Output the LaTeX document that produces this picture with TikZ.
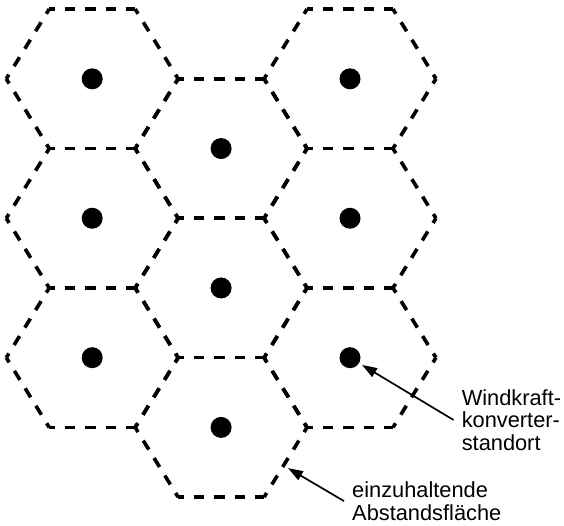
\documentclass[tikz,border=0pt]{standalone}
\usepackage{fontspec}
\setmainfont{Liberation Sans}
\usetikzlibrary{arrows.meta}

\tikzset{
  hexedge/.style={line width=3.6pt, dash pattern=on 10.5pt off 10pt, dash phase=5pt},
  site/.style={circle, fill, inner sep=0pt, minimum size=21pt, outer sep=3.5pt},
  callout/.style={anchor=west, inner sep=8pt, align=left, font=\fontsize{21.8}{22.5}\selectfont}
}

\begin{document}
\begin{tikzpicture}[>={Triangle[length=15pt,width=10pt]}]
		\useasboundingbox (0,0) rectangle (19.82,18.45);
		%hexagons, every edge drawn downwards or left to right
		\foreach \cx/\cy [count=\i] in {3.24/15.68, 3.24/10.78, 3.24/5.88, 7.77/13.23, 7.77/8.33, 7.77/3.43, 12.30/15.68, 12.30/10.78, 12.30/5.88}{
			\draw[hexedge] (\cx-1.51,\cy+2.45) -- (\cx+1.51,\cy+2.45);
			\draw[hexedge] (\cx-1.51,\cy-2.45) -- (\cx+1.51,\cy-2.45);
			\draw[hexedge] (\cx-1.51,\cy+2.45) -- (\cx-3.02,\cy);
			\draw[hexedge] (\cx-3.02,\cy) -- (\cx-1.51,\cy-2.45);
			\draw[hexedge] (\cx+1.51,\cy+2.45) -- (\cx+3.02,\cy);
			\draw[hexedge] (\cx+3.02,\cy) -- (\cx+1.51,\cy-2.45);
			%converter site
			\node[site] (site\i) at (\cx,\cy) {};
		}
		%labels
		\node[callout] (sitelabel) at (15.94,3.69) {Windkraft-\\konverter-\\standort};
		\node[callout] (arealabel) at (12.09,0.84) {einzuhaltende\\Abstandsfläche};
		\coordinate (areaedge) at (10.12,2.00);
		%arrows
		\draw[line width=1.7pt, ->] (sitelabel.west) -- (site9);
		\draw[line width=1.7pt, ->] (arealabel.west) -- (areaedge);
\end{tikzpicture}
\end{document}
